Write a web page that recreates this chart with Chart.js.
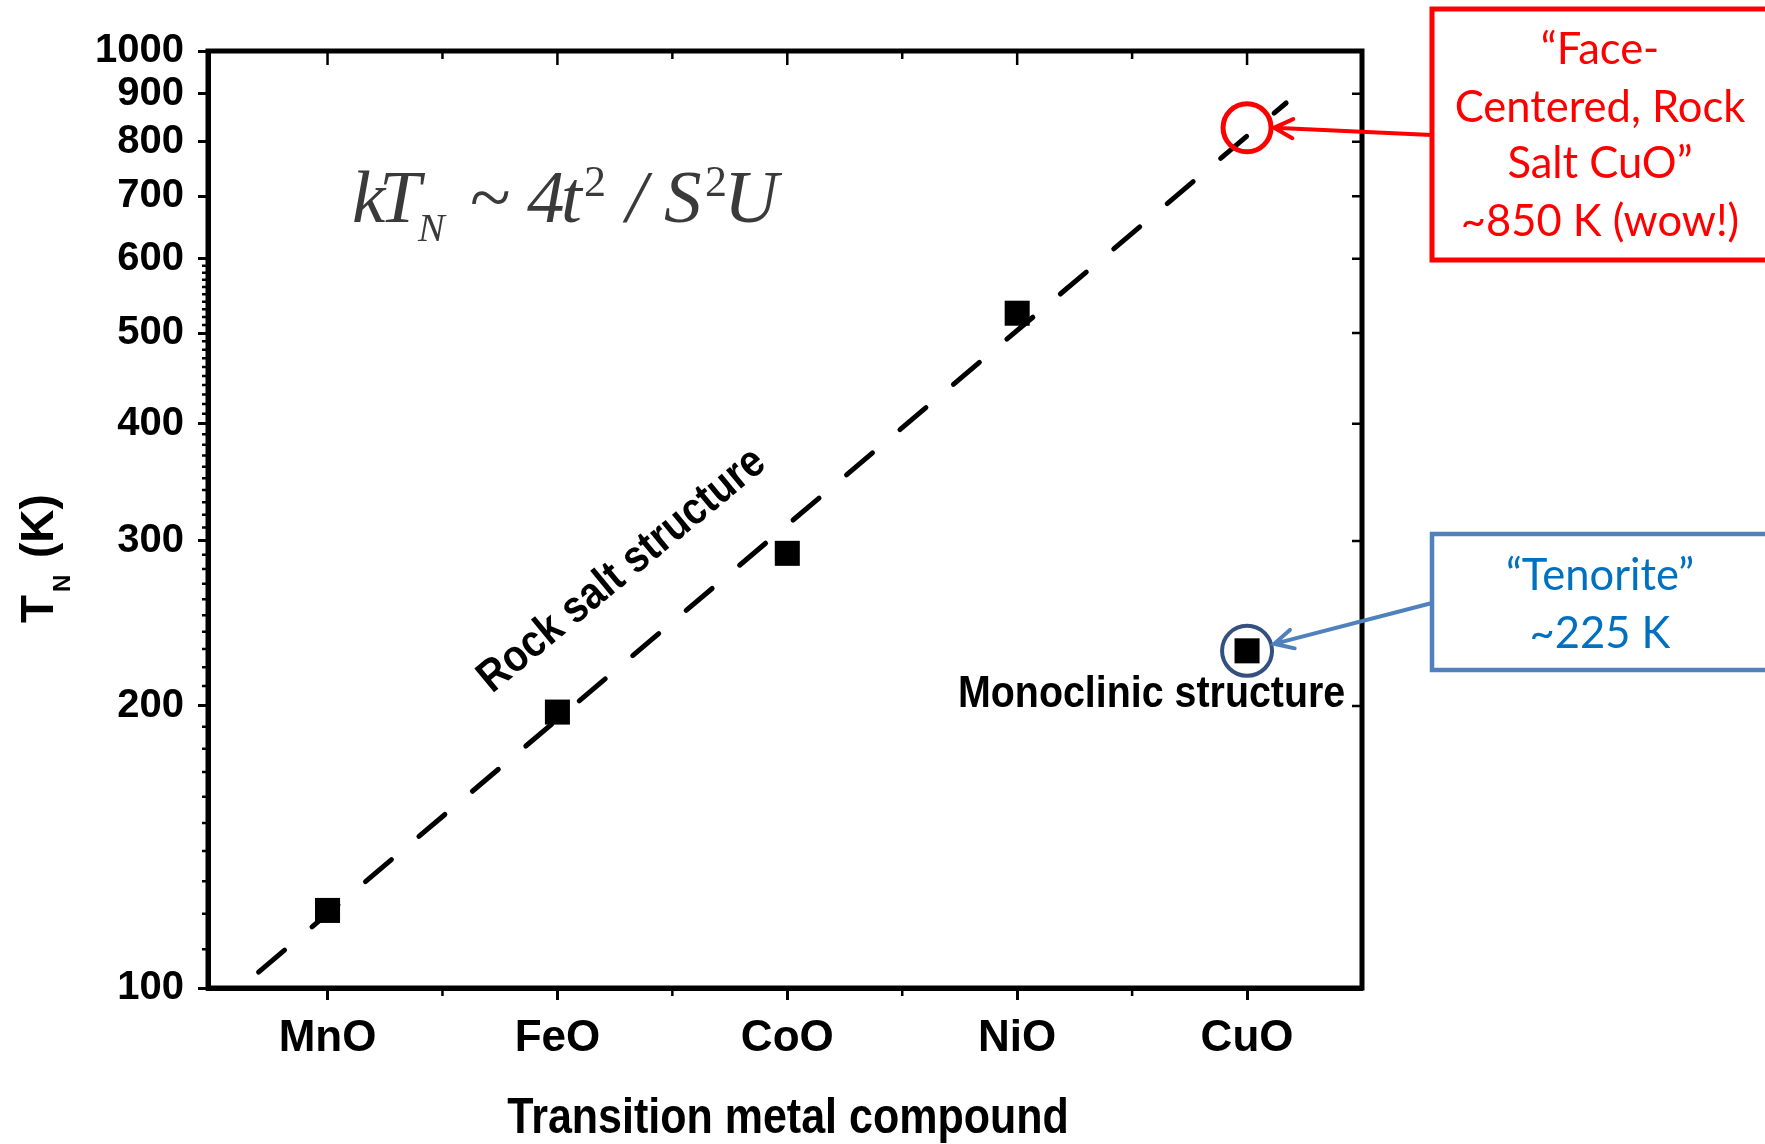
<!DOCTYPE html>
<html>
<head>
<meta charset="utf-8">
<script src="https://cdn.jsdelivr.net/npm/chart.js@4.4.1/dist/chart.umd.min.js"></script>
<style>
    html, body { margin: 0; padding: 0; background: #fff; }
    #wrap { width: 1765px; height: 1144px; position: relative; }
</style>
</head>
<body>
<div id="wrap"><canvas id="chartNeel"></canvas></div>
<script>
// Neel temperatures (K)
const compounds = ["MnO", "FeO", "CoO", "NiO", "CuO"];
const neelTemps = [121, 197, 291, 525, 229];

// dashed "rock salt" trend, two end points (x in category units)
const trendX = [-0.3, 4.17];
const trendY = [104, 880];

// circled CuO values
const rockSaltCuO = 828;
const tenoriteCuO = 229;

const yTickValues = [100, 200, 300, 400, 500, 600, 700, 800, 900, 1000];
const xMinorTicks = [0.5, 1.5, 2.5, 3.5];
const yMinorTicks = [];
for (let v = 110; v < 600; v += 10) {
    if (v % 100 !== 0) yMinorTicks.push(v);
}

const redNote = ["\u201CFace-", "Centered, Rock", "Salt CuO\u201D", "~850 K (wow!)"];
const blueNote = ["\u201CTenorite\u201D", "~225 K"];

const BOLD = "'Liberation Sans', Arial, sans-serif";

// text squeezed horizontally, like the scanned labels
function squished(ctx, text, x, y, font, sx, align) {
    ctx.save();
    ctx.font = font;
    ctx.translate(x, y);
    ctx.scale(sx, 1);
    ctx.textAlign = align || "left";
    ctx.textBaseline = "alphabetic";
    ctx.fillText(text, 0, 0);
    ctx.restore();
}

function arrow(ctx, x1, y1, x2, y2, color, width) {
    const ang = Math.atan2(y2 - y1, x2 - x1);
    const head = 21, spread = 0.47;
    ctx.save();
    ctx.strokeStyle = color;
    ctx.lineWidth = width;
    ctx.lineCap = "round";
    ctx.beginPath();
    ctx.moveTo(x1, y1);
    ctx.lineTo(x2, y2);
    ctx.moveTo(x2 - head * Math.cos(ang - spread), y2 - head * Math.sin(ang - spread));
    ctx.lineTo(x2, y2);
    ctx.lineTo(x2 - head * Math.cos(ang + spread), y2 - head * Math.sin(ang + spread));
    ctx.stroke();
    ctx.restore();
}

const decorPlugin = {
    id: "decor",
    afterDraw(chart) {
        const ctx = chart.ctx;
        const area = chart.chartArea;
        const xs = chart.scales.x;
        const ys = chart.scales.y;

        ctx.save();
        ctx.strokeStyle = "#000";
        ctx.lineCap = "butt";

        // frame
        ctx.lineWidth = 5;
        ctx.strokeRect(area.left, area.top, area.right - area.left, area.bottom - area.top);

        // minor ticks on left axis (outward)
        ctx.lineWidth = 2.5;
        ctx.beginPath();
        yMinorTicks.forEach((v) => {
            const py = ys.getPixelForValue(v);
            ctx.moveTo(area.left - 6, py);
            ctx.lineTo(area.left, py);
        });
        // right axis major ticks (inward)
        yTickValues.forEach((v) => {
            const py = ys.getPixelForValue(v);
            ctx.moveTo(area.right, py);
            ctx.lineTo(area.right - 10, py);
        });
        // bottom minor ticks + top ticks
        xMinorTicks.forEach((v) => {
            const px = xs.getPixelForValue(v);
            ctx.moveTo(px, area.bottom);
            ctx.lineTo(px, area.bottom + 8);
            ctx.moveTo(px, area.top);
            ctx.lineTo(px, area.top + 8);
        });
        compounds.forEach((c, i) => {
            const px = xs.getPixelForValue(i);
            ctx.moveTo(px, area.top);
            ctx.lineTo(px, area.top + 14);
        });
        ctx.stroke();
        ctx.restore();

        // axis titles
        ctx.save();
        ctx.fillStyle = "#000";
        squished(ctx, "Transition metal compound", 788, 1133, "bold 50px " + BOLD, 0.86, "center");
        ctx.translate(53, 623);
        ctx.rotate(-Math.PI / 2);
        ctx.font = "bold 46px " + BOLD;
        ctx.textBaseline = "alphabetic";
        ctx.fillText("T", 0, 0);
        ctx.font = "bold 24px " + BOLD;
        ctx.fillText("N", 31, 17);
        ctx.font = "bold 46px " + BOLD;
        ctx.fillText("(K)", 65, 0);
        ctx.restore();

        // in-plot labels
        ctx.save();
        ctx.fillStyle = "#000";
        squished(ctx, "Monoclinic structure", 958, 707, "bold 45px " + BOLD, 0.875, "left");
        ctx.translate(492, 694);
        ctx.rotate(-39.5 * Math.PI / 180);
        squished(ctx, "Rock salt structure", 0, 0, "bold 45px " + BOLD, 0.877, "left");
        ctx.restore();

        // formula kT_N ~ 4t^2 / S^2U
        ctx.save();
        ctx.fillStyle = "#3a3a3a";
        ctx.textBaseline = "alphabetic";
        const serif = "'Liberation Serif', 'Times New Roman', serif";
        const parts = [
            ["k", 352, 222, "italic 75px "],
            ["T", 379, 222, "italic 75px "],
            ["N", 418, 241, "italic 40px "],
            ["~", 470, 222, "75px "],
            ["4", 527, 222, "italic 75px "],
            ["t", 561, 222, "italic 75px "],
            ["2", 584, 196, "44px "],
            ["/", 626, 222, "italic 75px "],
            ["S", 664, 222, "italic 75px "],
            ["2", 705, 196, "44px "],
            ["U", 724, 222, "italic 75px "],
        ];
        parts.forEach((p) => {
            ctx.font = p[3] + serif;
            ctx.fillText(p[0], p[1], p[2]);
        });
        ctx.restore();

        // callout boxes
        const noteFont = "43.5px Lato, 'Open Sans', sans-serif";
        ctx.save();
        ctx.lineWidth = 5;
        ctx.strokeStyle = "#FF0000";
        ctx.strokeRect(1432, 9, 420, 251);
        ctx.fillStyle = "#FF0000";
        ctx.font = noteFont;
        ctx.textAlign = "center";
        const redBase = [64, 122, 178, 236];
        redNote.forEach((t, i) => ctx.fillText(t, 1600, redBase[i]));

        ctx.strokeStyle = "#4F81BD";
        ctx.lineWidth = 4.5;
        ctx.strokeRect(1432, 534, 420, 136);
        ctx.fillStyle = "#0070C0";
        const blueBase = [590, 648];
        blueNote.forEach((t, i) => ctx.fillText(t, 1600, blueBase[i]));
        ctx.restore();

        // arrows to the circles
        const cx = xs.getPixelForValue(4);
        const ry = ys.getPixelForValue(rockSaltCuO);
        arrow(ctx, 1432, 135, cx + 27, ry, "#FF0000", 4);
        const by = ys.getPixelForValue(tenoriteCuO);
        const bx0 = 1432, by0 = 603;
        const ang = Math.atan2(by0 - by, bx0 - cx);
        arrow(ctx, bx0, by0, cx + 28 * Math.cos(ang), by + 28 * Math.sin(ang), "#4F81BD", 4);
    },
};

const ctx = document.getElementById("chartNeel").getContext("2d");

new Chart(ctx, {
    type: "scatter",
    data: {
        datasets: [
            {
                label: "Rock salt CuO",
                data: [{ x: 4, y: rockSaltCuO }],
                pointStyle: "circle",
                pointRadius: 24,
                pointBorderWidth: 5,
                pointBorderColor: "#FF0000",
                pointBackgroundColor: "rgba(0,0,0,0)",
            },
            {
                label: "Tenorite",
                data: [{ x: 4, y: tenoriteCuO }],
                pointStyle: "circle",
                pointRadius: 25,
                pointBorderWidth: 4,
                pointBorderColor: "#34507F",
                pointBackgroundColor: "rgba(0,0,0,0)",
            },
            {
                label: "T_N",
                data: neelTemps.map((v, i) => ({ x: i, y: v })),
                pointStyle: "rect",
                pointRadius: 17.7,
                pointBorderWidth: 0,
                pointBackgroundColor: "#000",
            },
            {
                label: "trend",
                data: trendX.map((x, i) => ({ x: x, y: trendY[i] })),
                showLine: true,
                borderColor: "#000",
                borderWidth: 5,
                borderDash: [34, 36],
                borderCapStyle: "round",
                pointRadius: 0,
            },
        ],
    },
    options: {
        responsive: true,
        maintainAspectRatio: false,
        animation: false,
        layout: { padding: { top: 51, right: 403, left: 0, bottom: 0 } },
        plugins: {
            legend: { display: false },
            tooltip: { enabled: false },
        },
        scales: {
            x: {
                type: "linear",
                min: -0.52,
                max: 4.5,
                afterBuildTicks: (scale) => {
                    scale.ticks = compounds.map((c, i) => ({ value: i }));
                },
                afterFit: (scale) => {
                    scale.height = 156;
                },
                ticks: {
                    callback: (v) => compounds[v] || "",
                    color: "#000",
                    font: { family: BOLD, size: 44, weight: "bold" },
                    padding: 12,
                    maxRotation: 0,
                    autoSkip: false,
                },
                grid: { drawOnChartArea: false, tickLength: 12, tickWidth: 3, tickColor: "#000" },
                border: { display: true, color: "#000", width: 5 },
            },
            y: {
                type: "logarithmic",
                min: 100,
                max: 1000,
                afterBuildTicks: (scale) => {
                    scale.ticks = yTickValues.map((v) => ({ value: v }));
                },
                afterFit: (scale) => {
                    scale.width = 208;
                },
                ticks: {
                    callback: (v) => String(v),
                    color: "#000",
                    font: { family: BOLD, size: 40, weight: "bold" },
                    padding: 14,
                    autoSkip: false,
                },
                grid: { drawOnChartArea: false, tickLength: 10, tickWidth: 3, tickColor: "#000" },
                border: { display: true, color: "#000", width: 5 },
            },
        },
    },
    plugins: [decorPlugin],
});
</script>
</body>
</html>
